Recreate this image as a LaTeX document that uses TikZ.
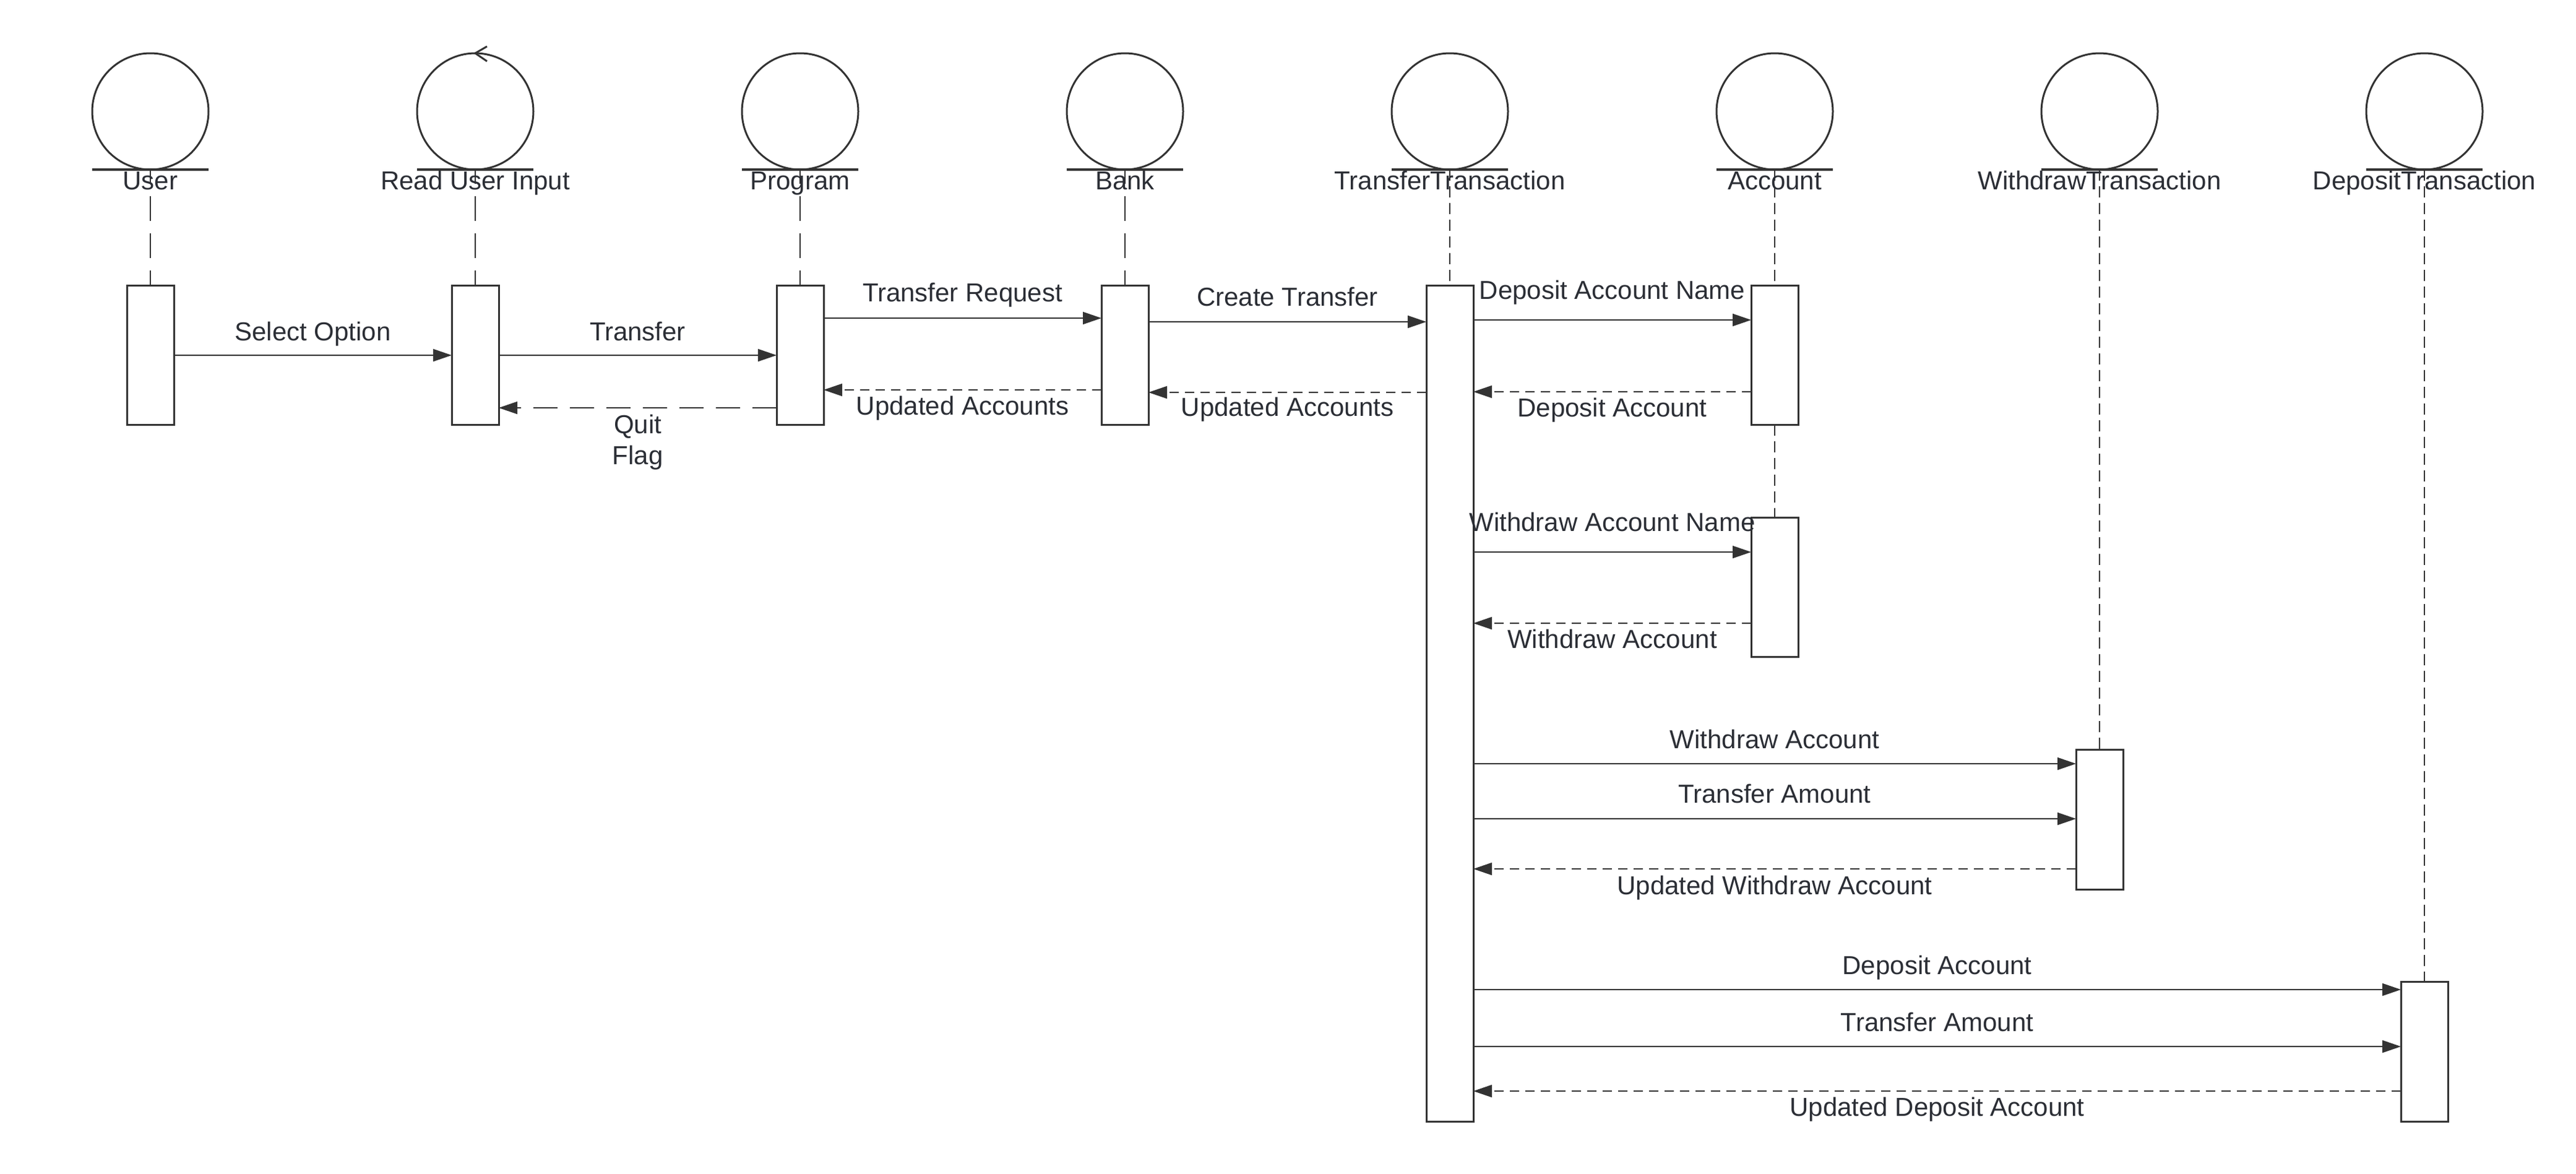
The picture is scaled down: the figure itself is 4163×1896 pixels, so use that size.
\documentclass[tikz,border=0pt]{standalone}
\usepackage{fontspec}
\setmainfont{Liberation Sans}
\usetikzlibrary{arrows.meta}
\definecolor{ink}{HTML}{2B2E35}
\definecolor{ln}{HTML}{333333}
\begin{document}
\begin{tikzpicture}[x=0.5pt,y=-0.5pt,
 obj/.style={circle, draw=ln, line width=1.5pt, minimum size=94pt, inner sep=0pt, outer sep=0pt},
 act/.style={rectangle, draw=ln, fill=white, line width=1.5pt, minimum width=38pt, inner sep=0pt, outer sep=0pt},
 lbl/.style={font=\fontsize{21}{25.2}\selectfont, text=ink, inner sep=0pt, anchor=base},
 msg/.style={draw=ln, line width=1pt, -{Triangle[length=15pt,width=10pt]}},
 ret/.style={msg, dash pattern=on 7.5pt off 5pt},
 retlong/.style={msg, dash pattern=on 19.5pt off 10pt},
 lifeA/.style={draw=ln, line width=1pt, dash pattern=on 20pt off 10pt, dash phase=8.5pt},
 lifeB/.style={draw=ln, line width=1pt, dash pattern=on 9pt off 4.5pt},
 ground/.style={draw=ln, line width=2pt},
 chev/.style={draw=ln, line width=1.5pt}]
\fill[white] (0,0) rectangle (4163,1896);
\useasboundingbox (0,0) rectangle (4163,1896);

% objects
\node[obj] (cU) at (243,180) {};
\node[obj] (cR) at (768,180) {};
\node[obj] (cP) at (1293,180) {};
\node[obj] (cB) at (1818,180) {};
\node[obj] (cT) at (2343,180) {};
\node[obj] (cA) at (2868,180) {};
\node[obj] (cW) at (3393,180) {};
\node[obj] (cD) at (3918,180) {};
\foreach \n in {cU,cR,cP,cB,cT,cA,cW,cD}{
  \draw[ground] (\n.west |- \n.south) -- (\n.east |- \n.south);
}
% control chevron on Read User Input
\draw[chev] ([shift={(19,-11)}]cR.north) -- (cR.north) -- ([shift={(19,13)}]cR.north);

% activation boxes (positions)
\coordinate (pU) at (243,573.5);
\coordinate (pR) at (768,573.5);
\coordinate (pP) at (1293,573.5);
\coordinate (pB) at (1818,573.5);
\coordinate (pT) at (2343,1136.5);
\coordinate (pA1) at (2868,573.5);
\coordinate (pA2) at (2868,948.5);
\coordinate (pW) at (3393,1324);
\coordinate (pD) at (3918,1699);

% lifelines
\draw[lifeA] (cU.south) -- (pU |- 0,461);
\draw[lifeA] (cR.south) -- (pR |- 0,461);
\draw[lifeA] (cP.south) -- (pP |- 0,461);
\draw[lifeA] (cB.south) -- (pB |- 0,461);
\draw[lifeB] (cT.south) -- (pT |- 0,461);
\draw[lifeB] (cA.south) -- (pA1 |- 0,461);
\draw[lifeB] (pA1 |- 0,686) -- (pA2 |- 0,836);
\draw[lifeB] (cW.south) -- (pW |- 0,1211);
\draw[lifeB] (cD.south) -- (pD |- 0,1586);

\node[act, minimum height=112.5pt] (bU) at (pU) {};
\node[act, minimum height=112.5pt] (bR) at (pR) {};
\node[act, minimum height=112.5pt] (bP) at (pP) {};
\node[act, minimum height=112.5pt] (bB) at (pB) {};
\node[act, minimum height=675.5pt] (bT) at (pT) {};
\node[act, minimum height=112.5pt] (bA1) at (pA1) {};
\node[act, minimum height=112.5pt] (bA2) at (pA2) {};
\node[act, minimum height=113pt] (bW) at (pW) {};
\node[act, minimum height=113pt] (bD) at (pD) {};

% object names
\node[lbl] (tU) at (243,306) {User};
\node[lbl] (tR) at (768,306) {Read User Input};
\node[lbl] (tP) at (1293,306) {Program};
\node[lbl] (tB) at (1818,306) {Bank};
\node[lbl] (tT) at (2343,306) {TransferTransaction};
\node[lbl] (tA) at (2868,306) {Account};
\node[lbl] (tW) at (3393,306) {WithdrawTransaction};
\node[lbl] (tD) at (3918,306) {DepositTransaction};

% message levels
\coordinate (y1) at (0,574);
\coordinate (y2) at (0,659);
\coordinate (y3) at (0,514);
\coordinate (y4) at (0,630);
\coordinate (y5) at (0,520);
\coordinate (y6) at (0,634);
\coordinate (y7) at (0,517);
\coordinate (y8) at (0,633);
\coordinate (y9) at (0,892);
\coordinate (y10) at (0,1007);
\coordinate (y11) at (0,1234);
\coordinate (y12) at (0,1323);
\coordinate (y13) at (0,1404);
\coordinate (y14) at (0,1599);
\coordinate (y15) at (0,1691);
\coordinate (y16) at (0,1763);

\draw[msg] (bU.east |- y1) -- (bR.west |- y1);
\draw[msg] (bR.east |- y1) -- (bP.west |- y1);
\draw[retlong] (bP.west |- y2) -- (bR.east |- y2);
\draw[msg] (bP.east |- y3) -- (bB.west |- y3);
\draw[ret] (bB.west |- y4) -- (bP.east |- y4);
\draw[msg] (bB.east |- y5) -- (bT.west |- y5);
\draw[ret] (bT.west |- y6) -- (bB.east |- y6);
\draw[msg] (bT.east |- y7) -- (bA1.west |- y7);
\draw[ret] (bA1.west |- y8) -- (bT.east |- y8);
\draw[msg] (bT.east |- y9) -- (bA2.west |- y9);
\draw[ret] (bA2.west |- y10) -- (bT.east |- y10);
\draw[msg] (bT.east |- y11) -- (bW.west |- y11);
\draw[msg] (bT.east |- y12) -- (bW.west |- y12);
\draw[ret] (bW.west |- y13) -- (bT.east |- y13);
\draw[msg] (bT.east |- y14) -- (bD.west |- y14);
\draw[msg] (bT.east |- y15) -- (bD.west |- y15);
\draw[ret] (bD.west |- y16) -- (bT.east |- y16);

% message labels
\node[lbl] (l1) at (505.5,550) {Select Option};
\node[lbl] (l2) at (1030.5,550) {Transfer};
\node[lbl] (l3a) at (1030.5,700) {Quit};
\node[lbl] (l3b) at (1030.5,750) {Flag};
\node[lbl] (l4) at (1555.5,487) {Transfer Request};
\node[lbl] (l5) at (1555.5,670) {Updated Accounts};
\node[lbl] (l6) at (2080.5,494) {Create Transfer};
\node[lbl] (l7) at (2080.5,672) {Updated Accounts};
\node[lbl] (l8) at (2605.5,483) {Deposit Account Name};
\node[lbl] (l9) at (2605.5,673) {Deposit Account};
\node[lbl] (l10) at (2605.5,858) {Withdraw Account Name};
\node[lbl] (l11) at (2605.5,1047) {Withdraw Account};
\node[lbl] (l12) at (2868,1209) {Withdraw Account};
\node[lbl] (l13) at (2868,1297) {Transfer Amount};
\node[lbl] (l14) at (2868,1445) {Updated Withdraw Account};
\node[lbl] (l15) at (3130.5,1574) {Deposit Account};
\node[lbl] (l16) at (3130.5,1666) {Transfer Amount};
\node[lbl] (l17) at (3130.5,1803) {Updated Deposit Account};
\end{tikzpicture}
\end{document}
